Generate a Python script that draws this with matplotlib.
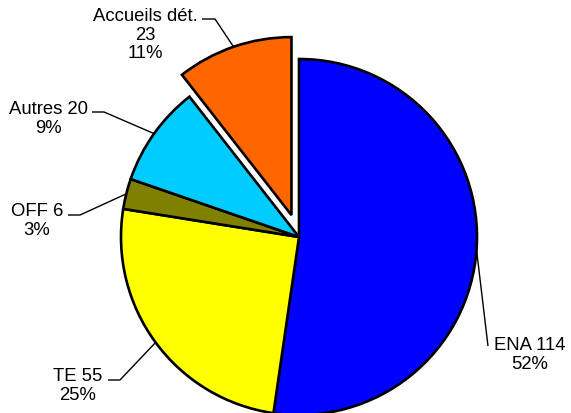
import numpy as np
import matplotlib.pyplot as plt

plt.rcParams['font.family'] = ['Liberation Sans', 'DejaVu Sans']

names = ['ENA', 'TE', 'OFF', 'Autres', 'Accueils dét.']
counts = [114, 55, 6, 20, 23]
colors = ['#0000FF', '#FFFF00', '#808000', '#00CCFF', '#FF6600']
label_texts = ['ENA 114\n52%', 'TE 55\n25%', 'OFF 6\n3%', 'Autres 20\n9%',
               'Accueils dét.\n23\n11%']

W, H = 571, 414
R = 178
cx, cy = 299, H - 238
# pull the last slice out of the pie (pie offsets are in data units)
explode = [0, 0, 0, 0, 0.13 * R]

fig = plt.figure(figsize=(W / 100, H / 100), dpi=100)
ax = fig.add_axes([0, 0, 1, 1])

wedges, _ = ax.pie(counts, colors=colors, explode=explode, startangle=90,
                   counterclock=False, radius=R, center=(cx, cy),
                   wedgeprops=dict(edgecolor='black', linewidth=1.9))
ax.set_xlim(0, W)
ax.set_ylim(0, H)
ax.axis('off')

# label positions (text anchor, leader elbow, leader end), y measured from top
labels = [
    dict(xy=(530, 355), elbow=(488, 347), end=None),
    dict(xy=(78, 386), elbow=(120, 381), end=(108, 381)),
    dict(xy=(37, 221), elbow=(80, 216), end=(68, 216)),
    dict(xy=(48, 119), elbow=(104, 113), end=(92, 113)),
    dict(xy=(145, 35), elbow=(215, 20), end=(202, 20)),
]

for w, txt, lab in zip(wedges, label_texts, labels):
    ang = np.deg2rad((w.theta1 + w.theta2) / 2)
    x0, y0 = w.center
    pts = [(x0 + R * np.cos(ang), y0 + R * np.sin(ang)),
           (lab['elbow'][0], H - lab['elbow'][1])]
    if lab['end'] is not None:
        pts.append((lab['end'][0], H - lab['end'][1]))
    xs, ys = zip(*pts)
    ax.plot(xs, ys, color='black', lw=1.0, solid_capstyle='butt')
    ax.text(lab['xy'][0], H - lab['xy'][1], txt, ha='center', va='center',
            fontsize=13.3, linespacing=1.12, multialignment='center')

fig.savefig('out.png', dpi=100)
